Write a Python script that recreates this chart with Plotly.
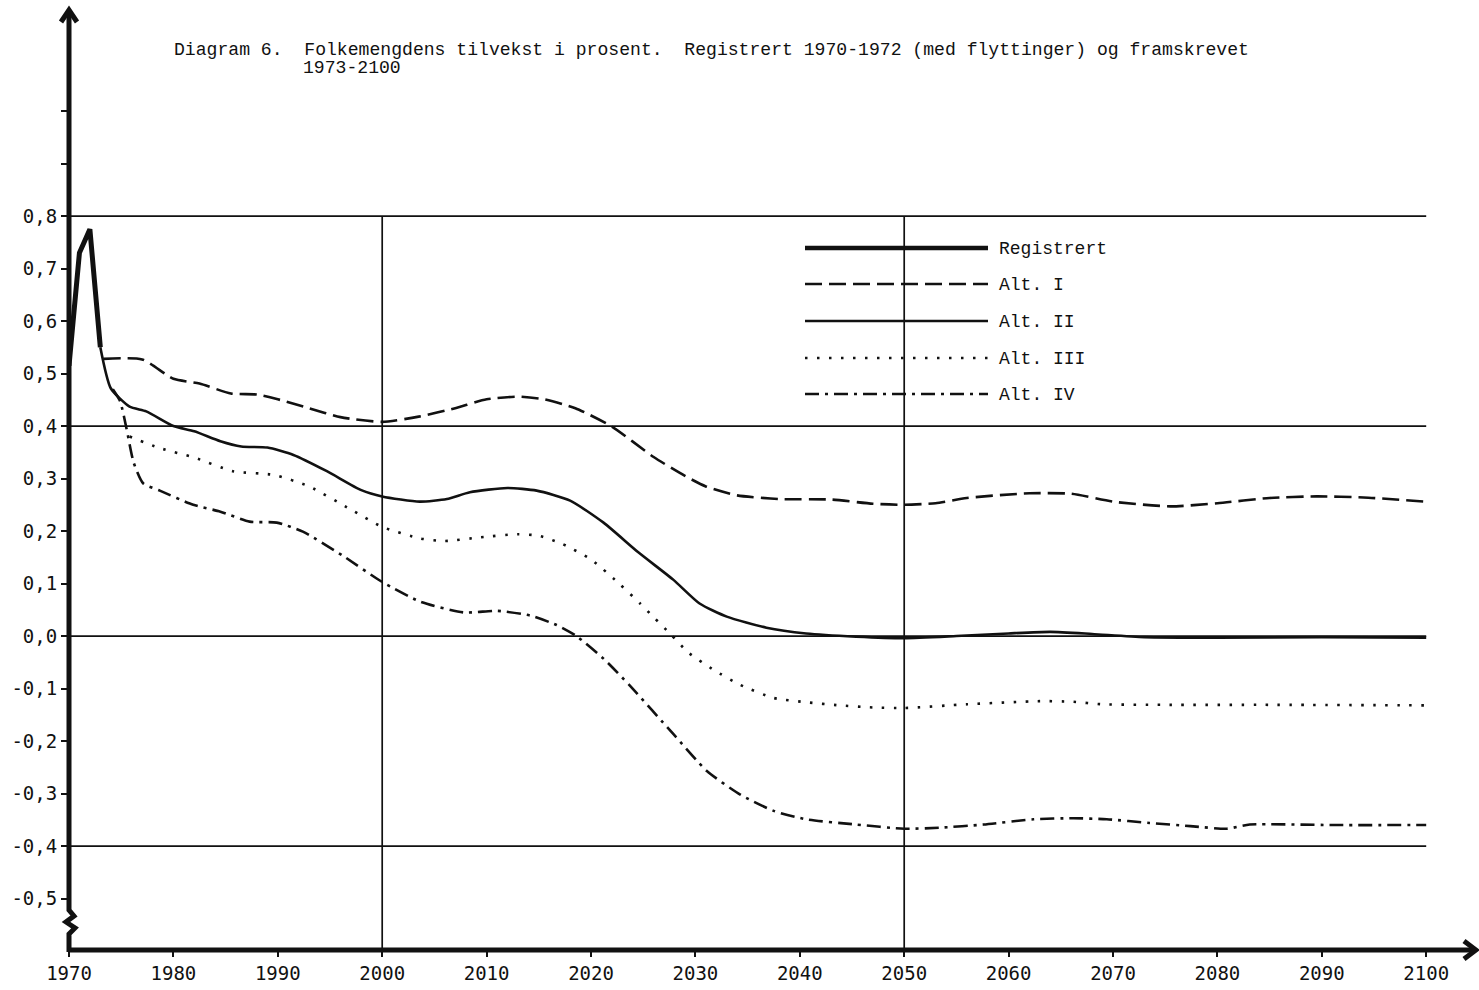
import plotly.graph_objects as go

# ---- data: population growth in percent ----
registrert_years = [1970, 1971, 1972, 1973]
registrert_vals = [0.515, 0.73, 0.775, 0.55]

alt1_years = [1973.3, 1977, 1980, 1982.5, 1985.5, 1988, 1990, 1993, 1996, 2000,
              2003.5, 2007, 2010, 2013, 2015.5, 2018.5, 2022, 2026, 2029, 2031,
              2034, 2038, 2043, 2047, 2050, 2053, 2056, 2062, 2066, 2070,
              2075.5, 2080, 2085, 2089.5, 2094, 2100]
alt1_vals = [0.528, 0.527, 0.49, 0.481, 0.462, 0.46, 0.451, 0.434, 0.417, 0.408,
             0.418, 0.434, 0.451, 0.456, 0.451, 0.434, 0.399, 0.341, 0.305, 0.285,
             0.268, 0.261, 0.26, 0.252, 0.25, 0.253, 0.263, 0.272, 0.271, 0.256,
             0.247, 0.253, 0.263, 0.266, 0.264, 0.256]

alt2_years = [1973, 1974, 1975.8, 1977.4, 1980, 1982, 1984.5, 1986.5, 1989, 1991.5,
              1994.7, 1998, 2000, 2003.6, 2006.2, 2008.4, 2012, 2014.8, 2018, 2021.2,
              2024.5, 2027.9, 2030.4, 2033, 2036.8, 2040.6, 2045.4, 2050, 2055, 2060,
              2064, 2068, 2073, 2080, 2090, 2100]
alt2_vals = [0.55, 0.472, 0.437, 0.428, 0.40, 0.39, 0.371, 0.361, 0.359, 0.345,
             0.314, 0.278, 0.266, 0.256, 0.261, 0.274, 0.282, 0.277, 0.258, 0.216,
             0.16, 0.107, 0.062, 0.037, 0.016, 0.005, -0.001, -0.004, 0.0, 0.005,
             0.008, 0.004, -0.002, -0.003, -0.002, -0.003]

alt3_years = [1975.8, 1978.7, 1982, 1985.7, 1989.6, 1993, 1997, 2000, 2003.6, 2006,
              2009.4, 2013, 2015, 2017.3, 2020, 2022.8, 2024.7, 2026, 2027.6, 2029.3,
              2031.8, 2034.3, 2037.5, 2040.6, 2043.8, 2047, 2050, 2056, 2063, 2066,
              2069, 2075, 2085, 2100]
alt3_vals = [0.38, 0.358, 0.34, 0.314, 0.307, 0.285, 0.241, 0.208, 0.186, 0.181,
             0.188, 0.194, 0.191, 0.175, 0.146, 0.098, 0.062, 0.036, 0.004, -0.031,
             -0.065, -0.093, -0.118, -0.126, -0.132, -0.136, -0.137, -0.13, -0.124, -0.125,
             -0.13, -0.131, -0.131, -0.132]

alt4_years = [1974.2, 1974.9, 1975.5, 1976.2, 1977.1, 1978.7, 1981.9, 1984.5, 1987.3, 1989.9,
              1992.4, 1996.3, 2000, 2003.6, 2007.8, 2011, 2014.2, 2016.7, 2018.6, 2021.2,
              2023.7, 2027.9, 2031.1, 2034.3, 2037.5, 2040.6, 2045.4, 2050, 2053.4,
              2057.6, 2062.4, 2066.2, 2069.4, 2073.5, 2077.4, 2080.9, 2083.1, 2091, 2100]
alt4_vals = [0.47, 0.447, 0.396, 0.33, 0.291, 0.277, 0.25, 0.237, 0.218, 0.216,
             0.199, 0.152, 0.103, 0.066, 0.045, 0.048, 0.039, 0.021, 0.0, -0.043,
             -0.094, -0.187, -0.257, -0.302, -0.333, -0.349, -0.359, -0.367, -0.365,
             -0.359, -0.349, -0.347, -0.349, -0.356, -0.362, -0.367, -0.359, -0.36, -0.36]

x_tick_vals = list(range(1970, 2101, 10))
x_tick_text = [str(v) for v in x_tick_vals]
y_tick_vals = [1.0, 0.9, 0.8, 0.7, 0.6, 0.5, 0.4, 0.3, 0.2, 0.1, 0.0,
               -0.1, -0.2, -0.3, -0.4, -0.5]
y_tick_text = ["", "", "0,8", "0,7", "0,6", "0,5", "0,4", "0,3", "0,2", "0,1", "0,0",
               "-0,1", "-0,2", "-0,3", "-0,4", "-0,5"]
h_grid = [0.8, 0.4, 0.0, -0.4]
v_grid = [2000, 2050]

legend_labels = ["Registrert", "Alt. I", "Alt. II", "Alt. III", "Alt. IV"]

# ---- page geometry ----
W, H = 1479, 990
ML, MB = 69, 40
PW, PH = W - ML, H - MB


def px(x):
    return (x - ML) / PW


def py(y):
    return (PH - y) / PH


INK = "#111111"
MONO = "Liberation Mono"
SANS_MONO = "DejaVu Sans Mono"

styles = [
    dict(width=5, dash="solid"),
    dict(width=2.6, dash="17px,7px"),
    dict(width=2.6, dash="solid"),
    dict(width=2.6, dash="2.5px,9.5px"),
    dict(width=2.6, dash="14px,6px,3px,6px"),
]

series = [
    (registrert_years, registrert_vals, "linear"),
    (alt1_years, alt1_vals, "spline"),
    (alt2_years, alt2_vals, "spline"),
    (alt3_years, alt3_vals, "spline"),
    (alt4_years, alt4_vals, "spline"),
]

fig = go.Figure()
for (xs, ys, shp), st, name in zip(series, styles, legend_labels):
    fig.add_trace(go.Scatter(
        x=xs, y=ys, mode="lines", name=name, showlegend=False, hoverinfo="skip",
        line=dict(color=INK, width=st["width"], dash=st["dash"], shape=shp,
                  smoothing=0.6 if shp == "spline" else None),
    ))

shapes = []
# horizontal and vertical reference lines
for v in h_grid:
    shapes.append(dict(type="line", xref="x", yref="y", x0=1970, x1=2100, y0=v, y1=v,
                       line=dict(color=INK, width=1.7), layer="below"))
for v in v_grid:
    shapes.append(dict(type="line", xref="x", yref="y", x0=v, x1=v, y0=-0.6, y1=0.8,
                       line=dict(color=INK, width=1.7), layer="below"))

# axes drawn by hand: x axis with arrow, y axis with break mark and arrow
shapes.append(dict(type="line", xref="paper", yref="paper",
                   x0=px(69), x1=px(1472), y0=py(950), y1=py(950),
                   line=dict(color=INK, width=5), layer="above"))
shapes.append(dict(type="path", xref="paper", yref="paper",
                   path=f"M {px(1464)},{py(941)} L {px(1476)},{py(950)} L {px(1464)},{py(959)}",
                   line=dict(color=INK, width=5), layer="above"))
ypath = (f"M {px(69)},{py(952)} L {px(69)},{py(934)} L {px(75)},{py(928)} "
         f"L {px(66)},{py(922)} L {px(74)},{py(916)} L {px(69)},{py(910)} "
         f"L {px(69)},{py(12)}")
shapes.append(dict(type="path", xref="paper", yref="paper", path=ypath,
                   line=dict(color=INK, width=5), layer="above"))
shapes.append(dict(type="path", xref="paper", yref="paper",
                   path=f"M {px(61)},{py(22)} L {px(69)},{py(10)} L {px(77)},{py(22)}",
                   line=dict(color=INK, width=5), layer="above"))

# legend samples
legend_rows = [248, 284, 321, 358, 394]
for yy, st in zip(legend_rows, styles):
    shapes.append(dict(type="line", xref="paper", yref="paper",
                       x0=px(805), x1=px(988), y0=py(yy), y1=py(yy),
                       line=dict(color=INK, width=min(st["width"], 4.5), dash=st["dash"]),
                       layer="above"))

annotations = []
for yy, lab in zip(legend_rows, legend_labels):
    annotations.append(dict(xref="paper", yref="paper", x=px(997), y=py(yy + 1),
                            text=lab, showarrow=False, xanchor="left", yanchor="middle",
                            font=dict(family=MONO, size=18, color=INK)))

annotations.append(dict(
    xref="paper", yref="paper", x=px(172), y=py(50),
    text="Diagram 6.  Folkemengdens tilvekst i prosent.  Registrert 1970-1972 (med flyttinger) og framskrevet",
    showarrow=False, xanchor="left", yanchor="middle",
    font=dict(family=MONO, size=18.1, color=INK)))
annotations.append(dict(
    xref="paper", yref="paper", x=px(301), y=py(68), text="1973-2100",
    showarrow=False, xanchor="left", yanchor="middle",
    font=dict(family=MONO, size=18.1, color=INK)))

fig.update_layout(
    width=W, height=H,
    margin=dict(l=ML, r=0, t=0, b=MB),
    paper_bgcolor="white", plot_bgcolor="white",
    shapes=shapes, annotations=annotations,
    xaxis=dict(range=[1970, 1970 + PW / 10.44], showgrid=False, zeroline=False,
               showline=False, tickmode="array", tickvals=x_tick_vals, ticktext=x_tick_text,
               ticks="outside", ticklen=6, tickwidth=2, tickcolor=INK,
               tickfont=dict(family=SANS_MONO, size=19, color=INK)),
    yaxis=dict(range=[-0.598, -0.598 + PH / 525], showgrid=False, zeroline=False,
               showline=False, tickmode="array", tickvals=y_tick_vals, ticktext=y_tick_text,
               ticks="outside", ticklen=7, tickwidth=2, tickcolor=INK,
               tickfont=dict(family=SANS_MONO, size=19, color=INK)),
)

fig.write_html("out.html")
